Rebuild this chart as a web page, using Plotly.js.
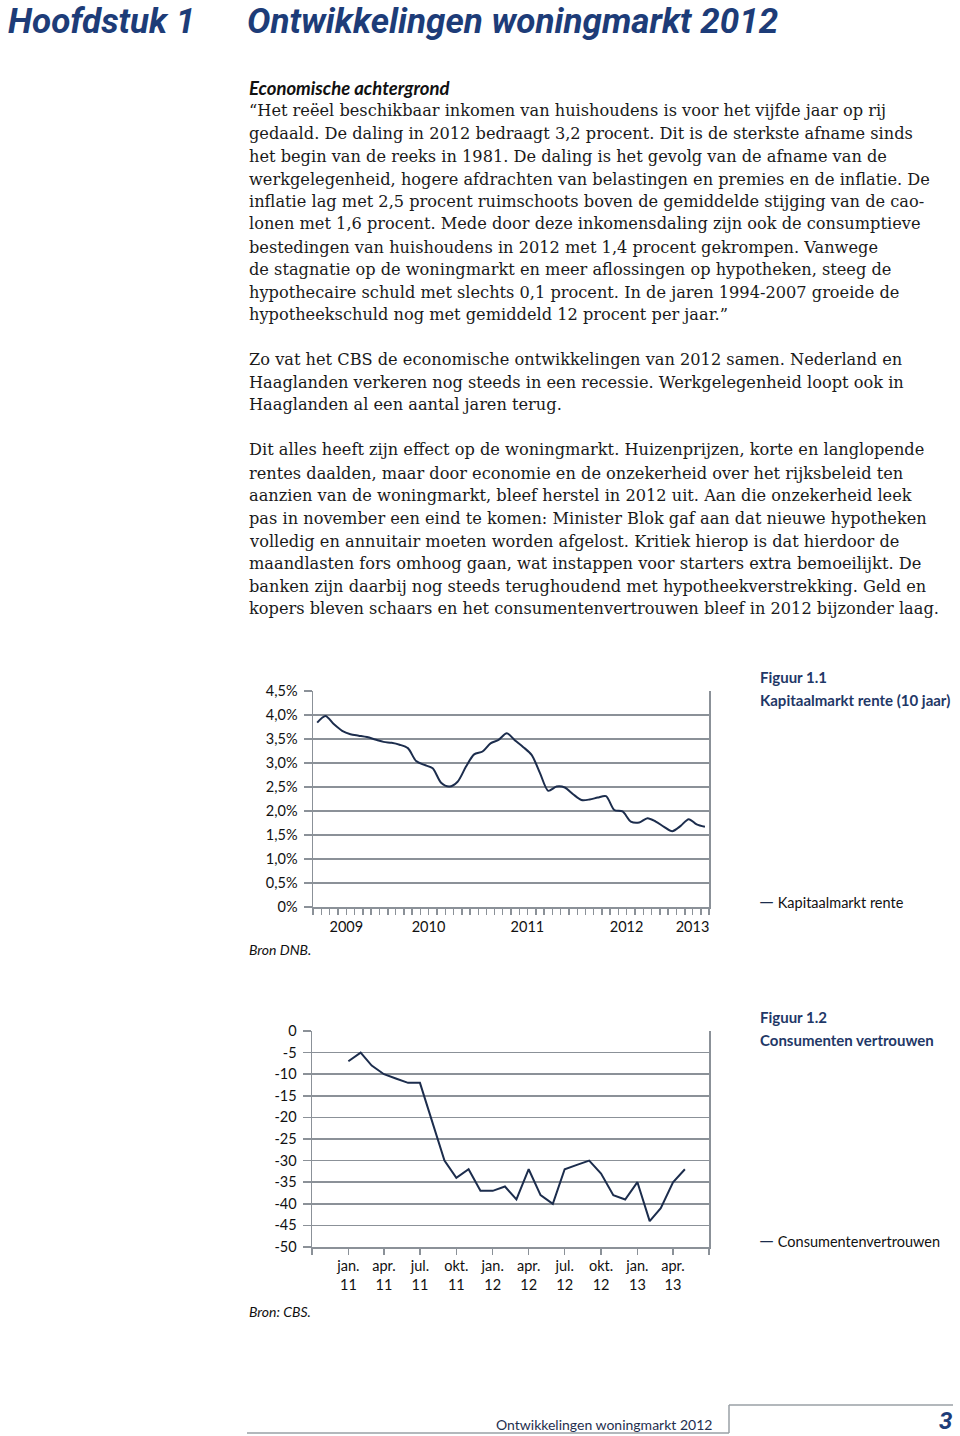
<!DOCTYPE html>
<html>
<head>
<meta charset="utf-8">
<script src="https://cdn.plot.ly/plotly-3.0.1.min.js"></script>
<style>
  html, body { margin: 0; padding: 0; background: #ffffff; }
  #page { width: 960px; height: 1436px; }
</style>
</head>
<body>
<div id="page"></div>
<script>
// ---------- DATA ----------
// Figuur 1.1 Kapitaalmarkt rente (10 jaar), monthly, May 2009 - Apr 2013 (%)
const rateMonths = [
  '2009-05','2009-06','2009-07','2009-08','2009-09','2009-10','2009-11','2009-12',
  '2010-01','2010-02','2010-03','2010-04','2010-05','2010-06','2010-07','2010-08','2010-09','2010-10','2010-11','2010-12',
  '2011-01','2011-02','2011-03','2011-04','2011-05','2011-06','2011-07','2011-08','2011-09','2011-10','2011-11','2011-12',
  '2012-01','2012-02','2012-03','2012-04','2012-05','2012-06','2012-07','2012-08','2012-09','2012-10','2012-11','2012-12',
  '2013-01','2013-02','2013-03','2013-04'
];
const rateValues = [
  3.84, 3.98, 3.81, 3.67, 3.60, 3.57, 3.54, 3.49,
  3.44, 3.42, 3.38, 3.31, 3.04, 2.96, 2.89, 2.59, 2.51, 2.61, 2.92, 3.18,
  3.24, 3.41, 3.48, 3.62, 3.47, 3.33, 3.17, 2.79, 2.42, 2.51, 2.49, 2.35,
  2.23, 2.24, 2.28, 2.31, 2.02, 1.99, 1.78, 1.76, 1.85, 1.78, 1.67, 1.58,
  1.69, 1.83, 1.72, 1.67
];
const rateYearTickPos = ['2009-09-01','2010-07-01','2011-07-01','2012-07-01','2013-03-01'];
const rateYearLabels = ['2009','2010','2011','2012','2013'];
const rateTickVals = [0, 0.5, 1, 1.5, 2, 2.5, 3, 3.5, 4, 4.5];
const rateTickText = ['0%','0,5%','1,0%','1,5%','2,0%','2,5%','3,0%','3,5%','4,0%','4,5%'];

// Figuur 1.2 Consumentenvertrouwen, monthly, Jan 2011 - May 2013
const confMonths = [
  '2011-01','2011-02','2011-03','2011-04','2011-05','2011-06','2011-07','2011-08','2011-09','2011-10','2011-11','2011-12',
  '2012-01','2012-02','2012-03','2012-04','2012-05','2012-06','2012-07','2012-08','2012-09','2012-10','2012-11','2012-12',
  '2013-01','2013-02','2013-03','2013-04','2013-05'
];
const confValues = [
  -7, -5, -8, -10, -11, -12, -12, -21, -30, -34, -32, -37,
  -37, -36, -39, -32, -38, -40, -32, -31, -30, -33, -38, -39,
  -35, -44, -41, -35, -32
];
const confTickPos = ['2010-10-01','2011-01-01','2011-04-01','2011-07-01','2011-10-01','2012-01-01','2012-04-01',
  '2012-07-01','2012-10-01','2013-01-01','2013-04-01','2013-07-01'];
const confTickLabels = ['','jan.<br>11','apr.<br>11','jul.<br>11','okt.<br>11','jan.<br>12','apr.<br>12',
  'jul.<br>12','okt.<br>12','jan.<br>13','apr.<br>13',''];
const confYVals = [0,-5,-10,-15,-20,-25,-30,-35,-40,-45,-50];
const confYText = ['0','-5','-10','-15','-20','-25','-30','-35','-40','-45','-50'];

// Page text
const chapterTitle = 'Hoofdstuk 1';
const pageTitle = 'Ontwikkelingen woningmarkt 2012';
const sectionHead = 'Economische achtergrond';
const bodyLines = [
  ['\u201cHet re\u00ebel beschikbaar inkomen van huishoudens is voor het vijfde jaar op rij', 111],
  ['gedaald. De daling in 2012 bedraagt 3,2 procent. Dit is de sterkste afname sinds', 133],
  ['het begin van de reeks in 1981. De daling is het gevolg van de afname van de', 156],
  ['werkgelegenheid, hogere afdrachten van belastingen en premies en de inflatie. De', 179],
  ['inflatie lag met 2,5 procent ruimschoots boven de gemiddelde stijging van de cao-', 201],
  ['lonen met 1,6 procent. Mede door deze inkomensdaling zijn ook de consumptieve', 224],
  ['bestedingen van huishoudens in 2012 met 1,4 procent gekrompen. Vanwege', 247],
  ['de stagnatie op de woningmarkt en meer aflossingen op hypotheken, steeg de', 269],
  ['hypothecaire schuld met slechts 0,1 procent. In de jaren 1994-2007 groeide de', 292],
  ['hypotheekschuld nog met gemiddeld 12 procent per jaar.\u201d', 314],
  ['Zo vat het CBS de economische ontwikkelingen van 2012 samen. Nederland en', 359],
  ['Haaglanden verkeren nog steeds in een recessie. Werkgelegenheid loopt ook in', 382],
  ['Haaglanden al een aantal jaren terug.', 405],
  ['Dit alles heeft zijn effect op de woningmarkt. Huizenprijzen, korte en langlopende', 450],
  ['rentes daalden, maar door economie en de onzekerheid over het rijksbeleid ten', 473],
  ['aanzien van de woningmarkt, bleef herstel in 2012 uit. Aan die onzekerheid leek', 495],
  ['pas in november een eind te komen: Minister Blok gaf aan dat nieuwe hypotheken', 518],
  ['volledig en annuitair moeten worden afgelost. Kritiek hierop is dat hierdoor de', 541],
  ['maandlasten fors omhoog gaan, wat instappen voor starters extra bemoeilijkt. De', 563],
  ['banken zijn daarbij nog steeds terughoudend met hypotheekverstrekking. Geld en', 586],
  ['kopers bleven schaars en het consumentenvertrouwen bleef in 2012 bijzonder laag.', 608]
];

// ---------- STYLE ----------
const W = 960, H = 1436;
const px = x => x / W;
const py = y => 1 - y / H;
const NAVY = '#1d3c78';
const CAP = '#1f3867';
const LINE = '#1c2d4d';
const GRID = '#8b9198';
const SANS = 'Lato, "Open Sans", sans-serif';
const SERIF = '"DejaVu Serif", serif';

const traces = [
  {
    x: rateMonths, y: rateValues, xaxis: 'x', yaxis: 'y',
    type: 'scatter', mode: 'lines', name: 'Kapitaalmarkt rente',
    xperiod: 'M1', xperiodalignment: 'middle',
    line: {color: LINE, width: 2, shape: 'spline', smoothing: 0.8},
    hoverinfo: 'x+y'
  },
  {
    x: confMonths, y: confValues, xaxis: 'x2', yaxis: 'y2',
    type: 'scatter', mode: 'lines', name: 'Consumentenvertrouwen',
    line: {color: LINE, width: 2},
    hoverinfo: 'x+y'
  }
];

function ann(text, x, y, size, family, color, extra) {
  return Object.assign({
    text: text, x: px(x), y: py(y), xref: 'paper', yref: 'paper',
    xanchor: 'left', yanchor: 'middle', showarrow: false, align: 'left',
    font: {family: family, size: size, color: color}
  }, extra || {});
}

const keyDash = '<span style="color:' + LINE + ';font-size:19px">\u2014</span> ';

const annotations = [
  ann('<b><i>' + chapterTitle + '</i></b>', 6, 21.5, 35, 'Roboto, sans-serif', NAVY),
  ann('<b><i>' + pageTitle + '</i></b>', 245, 21.5, 35, 'Roboto, sans-serif', NAVY),
  ann('<b><i>' + sectionHead + '</i></b>', 247, 88, 18.5, SANS, '#111111'),
  // chart captions and keys
  ann('<b>Figuur 1.1</b>', 758, 677, 15, SANS, CAP),
  ann('<b>Kapitaalmarkt rente (10 jaar)</b>', 758, 700, 15, SANS, CAP),
  ann(keyDash + 'Kapitaalmarkt rente', 757, 900, 14.5, SANS, '#111111'),
  ann('<i>Bron DNB.</i>', 247, 949, 14, SANS, '#111111'),
  ann('<b>Figuur 1.2</b>', 758, 1017, 15, SANS, CAP),
  ann('<b>Consumenten vertrouwen</b>', 758, 1040, 15, SANS, CAP),
  ann(keyDash + 'Consumentenvertrouwen', 757, 1239, 14.5, SANS, '#111111'),
  ann('<i>Bron: CBS.</i>', 247, 1311, 14, SANS, '#111111'),
  // footer
  ann(pageTitle, 494, 1424, 14, SANS, '#1f2f4f'),
  ann('<b><i>3</i></b>', 954, 1421, 24, 'Roboto, sans-serif', NAVY, {xanchor: 'right'})
];
bodyLines.forEach(l => annotations.push(ann(l[0], 247, l[1], 16.2, SERIF, '#1a1a1a')));

const footerLineColor = '#9aa0a6';
const shapes = [
  {type: 'line', xref: 'paper', yref: 'paper', x0: px(247), x1: px(729), y0: py(1433), y1: py(1433), line: {color: footerLineColor, width: 1.5}},
  {type: 'line', xref: 'paper', yref: 'paper', x0: px(729), x1: px(729), y0: py(1433), y1: py(1405), line: {color: footerLineColor, width: 1.5}},
  {type: 'line', xref: 'paper', yref: 'paper', x0: px(729), x1: px(953), y0: py(1405), y1: py(1405), line: {color: footerLineColor, width: 1.5}}
];

const tickFont = {family: SANS, size: 14.5, color: '#111111'};

const layout = {
  width: W, height: H,
  margin: {l: 0, r: 0, t: 0, b: 0, pad: 0},
  paper_bgcolor: '#ffffff', plot_bgcolor: '#ffffff',
  showlegend: false,
  xaxis: {
    domain: [px(313), px(709)], anchor: 'y', type: 'date',
    range: ['2009-05-01', '2013-05-01'],
    tickmode: 'array', tickvals: rateYearTickPos, ticktext: rateYearLabels,
    ticks: 'outside', ticklen: 6, tickwidth: 1.5, tickcolor: GRID,
    ticklabelstandoff: 0,
    minor: {ticks: 'outside', ticklen: 6, tickwidth: 1.5, tickcolor: GRID, dtick: 'M1', tick0: '2009-05-01', showgrid: false},
    showline: true, linecolor: GRID, linewidth: 1.5,
    showgrid: false, zeroline: false, tickfont: tickFont, fixedrange: true
  },
  yaxis: {
    domain: [py(907), py(691)], anchor: 'x',
    range: [0, 4.5],
    tickmode: 'array', tickvals: rateTickVals, ticktext: rateTickText,
    ticks: 'outside', ticklen: 8, tickwidth: 1.5, tickcolor: GRID,
    ticklabelstandoff: 3,
    showline: true, mirror: true, linecolor: GRID, linewidth: 1.5,
    showgrid: true, gridcolor: GRID, gridwidth: 1.5,
    zeroline: false, tickfont: tickFont, fixedrange: true
  },
  xaxis2: {
    domain: [px(312), px(709)], anchor: 'y2', type: 'date',
    range: ['2010-10-01', '2013-07-01'],
    tickmode: 'array', tickvals: confTickPos, ticktext: confTickLabels,
    ticks: 'outside', ticklen: 6, tickwidth: 1.5, tickcolor: GRID,
    ticklabelstandoff: -1,
    showline: true, linecolor: GRID, linewidth: 1.5,
    showgrid: false, zeroline: false, tickfont: tickFont, fixedrange: true
  },
  yaxis2: {
    domain: [py(1247), py(1031)], anchor: 'x2',
    range: [-50, 0],
    tickmode: 'array', tickvals: confYVals, ticktext: confYText,
    ticks: 'outside', ticklen: 8, tickwidth: 1.5, tickcolor: GRID,
    ticklabelstandoff: 3,
    showline: true, mirror: true, linecolor: GRID, linewidth: 1.5,
    showgrid: true, gridcolor: GRID, gridwidth: 1.5,
    zeroline: false, tickfont: tickFont, fixedrange: true
  },
  annotations: annotations,
  shapes: shapes
};

Plotly.newPlot('page', traces, layout, {displayModeBar: false, staticPlot: true});
</script>
</body>
</html>
